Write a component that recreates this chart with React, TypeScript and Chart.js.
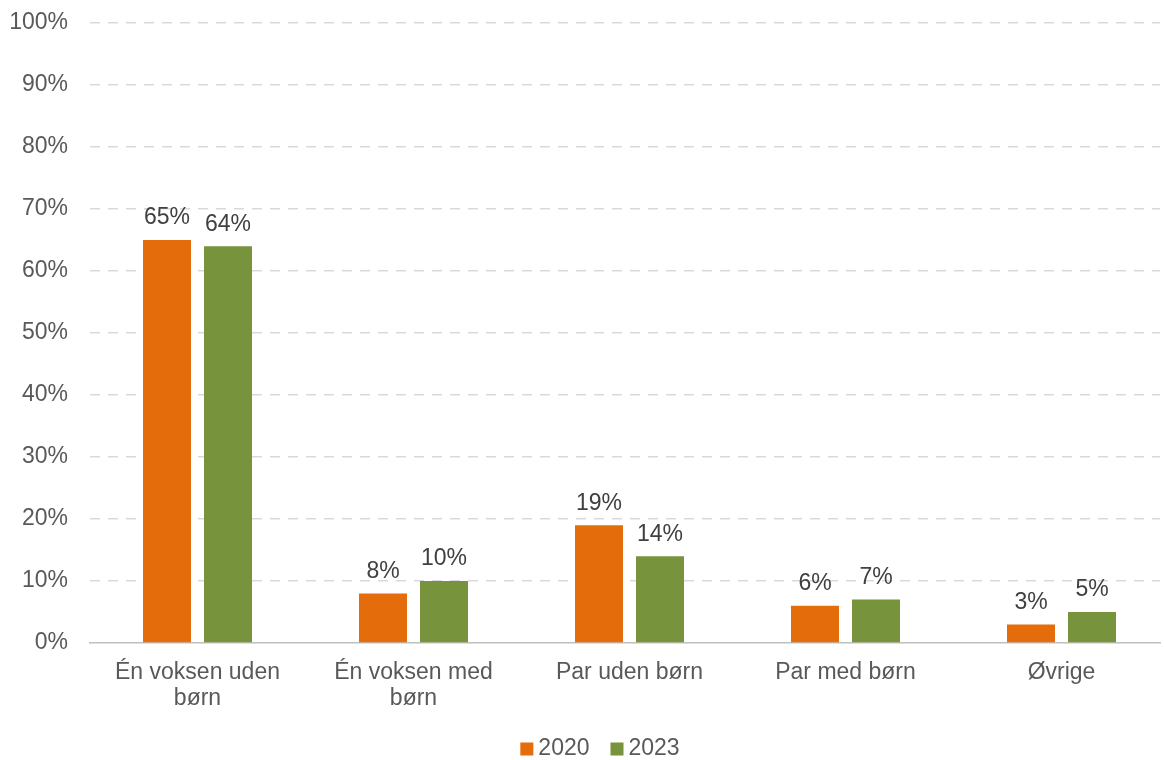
import React, { useEffect, useRef } from "react";
import { Chart, registerables } from "chart.js";

Chart.register(...registerables);

const categories: string[][] = [
  ["Én voksen uden", "børn"],
  ["Én voksen med", "børn"],
  ["Par uden børn"],
  ["Par med børn"],
  ["Øvrige"],
];
const seriesNames = ["2020", "2023"];
const values2020 = [65, 8, 19, 6, 3];
const values2023 = [64, 10, 14, 7, 5];
const yMin = 0;
const yMax = 100;
const yStep = 10;

const ORANGE = "#E46C0A";
const GREEN = "#77933C";
const FONT = "'Liberation Sans', Arial, sans-serif";

const dataLabelPlugin = {
  id: "dataLabels",
  afterDatasetsDraw(chart: any) {
    const ctx = chart.ctx;
    ctx.save();
    ctx.font = `23px ${FONT}`;
    ctx.fillStyle = "#404040";
    ctx.textAlign = "center";
    ctx.textBaseline = "middle";
    chart.data.datasets.forEach((ds: any, di: number) => {
      const meta = chart.getDatasetMeta(di);
      meta.data.forEach((bar: any, i: number) => {
        const v = ds.data[i].y;
        ctx.fillText(`${v}%`, bar.x, bar.y - 22);
      });
    });
    ctx.restore();
  },
};

const legendPlugin = {
  id: "customLegend",
  afterDraw(chart: any) {
    const ctx = chart.ctx;
    ctx.save();
    ctx.font = `23px ${FONT}`;
    ctx.textBaseline = "middle";
    ctx.textAlign = "left";
    const box = 13;
    const gapText = 5;
    const gapItem = 21;
    const items = chart.data.datasets.map((ds: any) => ({
      text: ds.label,
      color: ds.backgroundColor,
      w: ctx.measureText(ds.label).width,
    }));
    const total =
      items.reduce((s: number, it: any) => s + box + gapText + it.w, 0) +
      gapItem * (items.length - 1);
    let x = 600 - total / 2;
    const cy = 749;
    items.forEach((it: any) => {
      ctx.fillStyle = it.color;
      ctx.fillRect(x, cy - box / 2, box, box);
      ctx.fillStyle = "#595959";
      ctx.fillText(it.text, x + box + gapText, cy);
      x += box + gapText + it.w + gapItem;
    });
    ctx.restore();
  },
};

export default function App() {
  const ref = useRef<HTMLCanvasElement | null>(null);

  useEffect(() => {
    document.body.style.margin = "0";
    const canvas = ref.current;
    if (!canvas) return;
    const toPoints = (arr: number[]) => arr.map((y, i) => ({ x: i, y }));
    const chart = new Chart(canvas, {
      type: "bar",
      data: {
        datasets: [
          {
            label: seriesNames[0],
            data: toPoints(values2020),
            backgroundColor: ORANGE,
            categoryPercentage: 0.5648,
            barPercentage: 0.787,
          },
          {
            label: seriesNames[1],
            data: toPoints(values2023),
            backgroundColor: GREEN,
            categoryPercentage: 0.5648,
            barPercentage: 0.787,
          },
        ],
      },
      options: {
        animation: false,
        responsive: true,
        maintainAspectRatio: false,
        layout: { padding: { top: 23, right: 4, left: 0, bottom: 34 } },
        plugins: {
          tooltip: { enabled: false },
          legend: { display: false },
        },
        scales: {
          x: {
            type: "linear",
            offset: false,
            min: -0.4977,
            max: 4.456,
            grid: { display: false, drawTicks: false, offset: false },
            border: { display: true, color: "#BFBFBF", width: 1.5 },
            afterFit: (scale: any) => {
              scale.height = 83;
            },
            ticks: {
              stepSize: 1,
              includeBounds: false,
              autoSkip: false,
              maxRotation: 0,
              minRotation: 0,
              padding: 16,
              color: "#595959",
              font: { family: FONT, size: 23, lineHeight: 1.15 },
              callback: (v: any) =>
                Number.isInteger(v) && categories[v] ? categories[v] : "",
            },
          },
          y: {
            min: yMin,
            max: yMax,
            afterFit: (scale: any) => {
              scale.width = 90;
            },
            grid: {
              drawTicks: true,
              tickLength: 22,
              tickColor: "rgba(0,0,0,0)",
              lineWidth: 1.5,
              color: (c: any) => (c.tick && c.tick.value === 0 ? "rgba(0,0,0,0)" : "#D9D9D9"),
            },
            border: { display: false, dash: [10, 8] },
            ticks: {
              stepSize: yStep,
              padding: 0,
              color: "#595959",
              font: { family: FONT, size: 23 },
              callback: (v: any) => `${v}%`,
            },
          },
        },
      },
      plugins: [dataLabelPlugin, legendPlugin],
    } as any);
    return () => chart.destroy();
  }, []);

  return (
    <div style={{ width: 1164, height: 760, position: "relative" }}>
      <canvas ref={ref} />
    </div>
  );
}
